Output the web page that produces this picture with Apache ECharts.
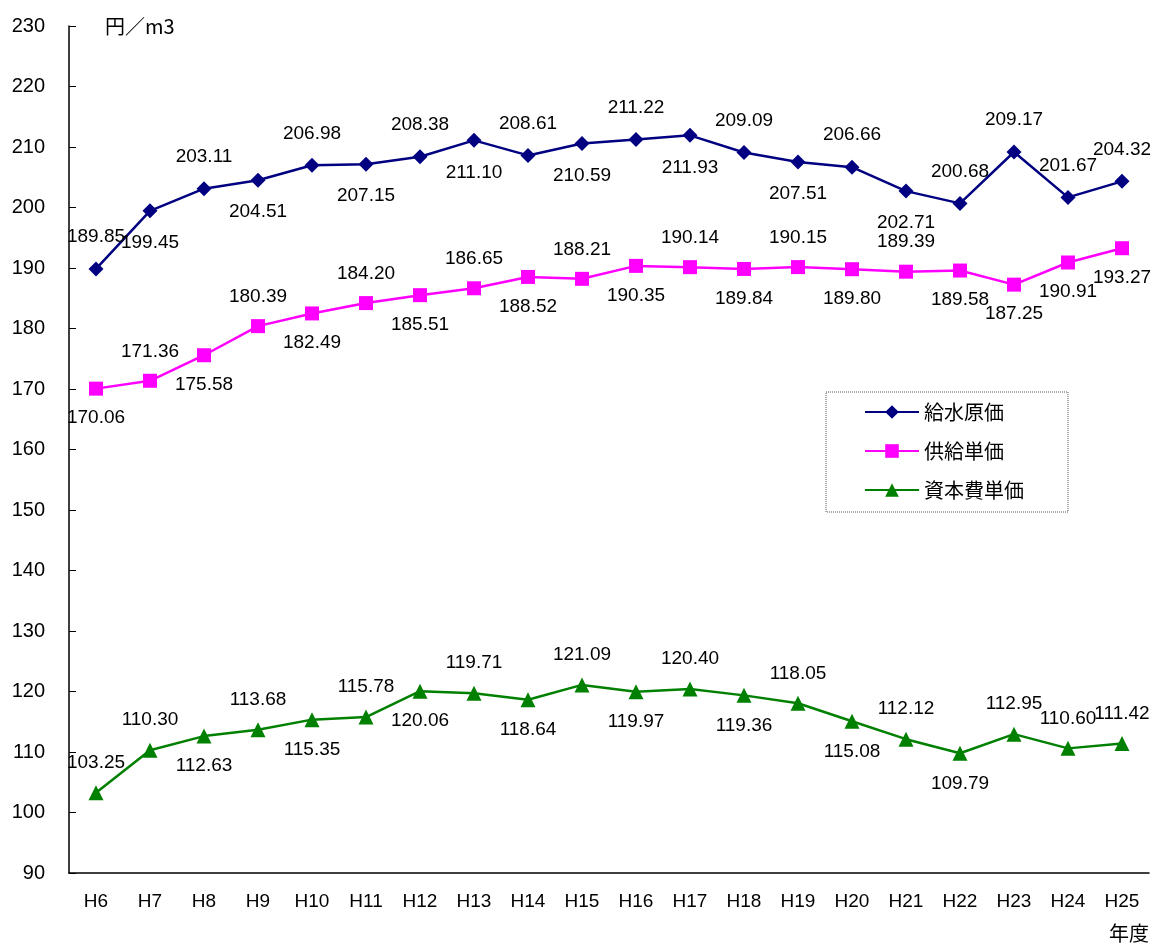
<!DOCTYPE html>
<html>
<head>
<meta charset="utf-8">
<script src="https://cdn.jsdelivr.net/npm/echarts@6/dist/echarts.min.js"></script>
<style>
html, body { margin: 0; padding: 0; background: #fff; }
#main { width: 1153px; height: 946px; }
</style>
</head>
<body>
<div id="main"></div>
<script>
// 年度
var years = ['H6', 'H7', 'H8', 'H9', 'H10', 'H11', 'H12', 'H13', 'H14', 'H15',
    'H16', 'H17', 'H18', 'H19', 'H20', 'H21', 'H22', 'H23', 'H24', 'H25'];
// 給水原価
var kyusuiGenka = [189.85, 199.45, 203.11, 204.51, 206.98, 207.15, 208.38, 211.10, 208.61, 210.59,
    211.22, 211.93, 209.09, 207.51, 206.66, 202.71, 200.68, 209.17, 201.67, 204.32];
// 供給単価
var kyokyuTanka = [170.06, 171.36, 175.58, 180.39, 182.49, 184.20, 185.51, 186.65, 188.52, 188.21,
    190.35, 190.14, 189.84, 190.15, 189.80, 189.39, 189.58, 187.25, 190.91, 193.27];
// 資本費単価
var shihonhiTanka = [103.25, 110.30, 112.63, 113.68, 115.35, 115.78, 120.06, 119.71, 118.64, 121.09,
    119.97, 120.40, 119.36, 118.05, 115.08, 112.12, 109.79, 112.95, 110.60, 111.42];
var yMin = 90, yMax = 230, yStep = 10;

// ラベルの上下 (t:上 b:下)
var posBlue = 'tbtbtbtbtbtbtbtbtttt';
var posPink = 'btbtbtbtbtbtbtbtbbbb';
var posGreen = 'ttbtbtbtbtbtbtbtbttt';

var numFont = '"Liberation Sans", Arial, sans-serif';

function withLabels(values, pos, dist) {
    return values.map(function (v, i) {
        return {
            value: v,
            label: { position: pos.charAt(i) === 't' ? 'top' : 'bottom', distance: dist }
        };
    });
}

var labelStyle = {
    show: true,
    color: '#000',
    fontSize: 19,
    fontFamily: numFont,
    formatter: function (p) { return p.value.toFixed(2); }
};

var myChart = echarts.init(document.getElementById('main'));
var option = {
    animation: false,
    textStyle: { fontFamily: '"Noto Sans CJK JP", sans-serif' },
    grid: { left: 69, right: 4, top: 26, bottom: 73 },
    legend: {
        orient: 'vertical',
        left: 826,
        top: 392,
        padding: [10, 44, 12, 38],
        itemGap: 19,
        itemWidth: 54,
        itemHeight: 17,
        borderColor: '#555',
        borderWidth: 1,
        borderType: 'dotted',
        textStyle: { fontSize: 20, color: '#000', fontFamily: '"Noto Sans CJK JP", sans-serif' },
        data: ['給水原価', '供給単価', '資本費単価']
    },
    xAxis: {
        type: 'category',
        data: years,
        name: '年度',
        nameLocation: 'end',
        nameGap: 0,
        nameTextStyle: { fontSize: 20, color: '#000', align: 'right', verticalAlign: 'top', padding: [50, 0, 0, 0] },
        axisLine: { lineStyle: { color: '#000', width: 1.5 } },
        axisTick: { inside: true, length: 7, lineStyle: { color: '#000' } },
        axisLabel: { color: '#000', fontSize: 19, margin: 19, fontFamily: numFont }
    },
    yAxis: {
        type: 'value',
        min: yMin,
        max: yMax,
        interval: yStep,
        name: '円／m3',
        nameLocation: 'end',
        nameGap: 0,
        nameTextStyle: { fontSize: 20, color: '#000', align: 'left', verticalAlign: 'middle', padding: [0, 0, 0, 36], fontFamily: '"Noto Sans CJK JP", sans-serif' },
        splitLine: { show: false },
        axisLine: { show: true, lineStyle: { color: '#000', width: 1.5 } },
        axisTick: { show: true, inside: true, length: 7, lineStyle: { color: '#000' } },
        axisLabel: { color: '#000', fontSize: 20, margin: 24, fontFamily: numFont }
    },
    series: [{
        name: '給水原価',
        type: 'line',
        data: withLabels(kyusuiGenka, posBlue, 15),
        symbol: 'diamond',
        symbolSize: 15,
        itemStyle: { color: '#000080' },
        lineStyle: { color: '#000080', width: 2.5 },
        label: labelStyle
    }, {
        name: '供給単価',
        type: 'line',
        data: withLabels(kyokyuTanka, posPink, 13),
        symbol: 'rect',
        symbolSize: 14,
        itemStyle: { color: '#ff00ff' },
        lineStyle: { color: '#ff00ff', width: 2.5 },
        label: labelStyle
    }, {
        name: '資本費単価',
        type: 'line',
        data: withLabels(shihonhiTanka, posGreen, 13),
        symbol: 'triangle',
        symbolSize: 15,
        itemStyle: { color: '#008000' },
        lineStyle: { color: '#008000', width: 2.5 },
        label: labelStyle
    }]
};
myChart.setOption(option);
</script>
</body>
</html>
